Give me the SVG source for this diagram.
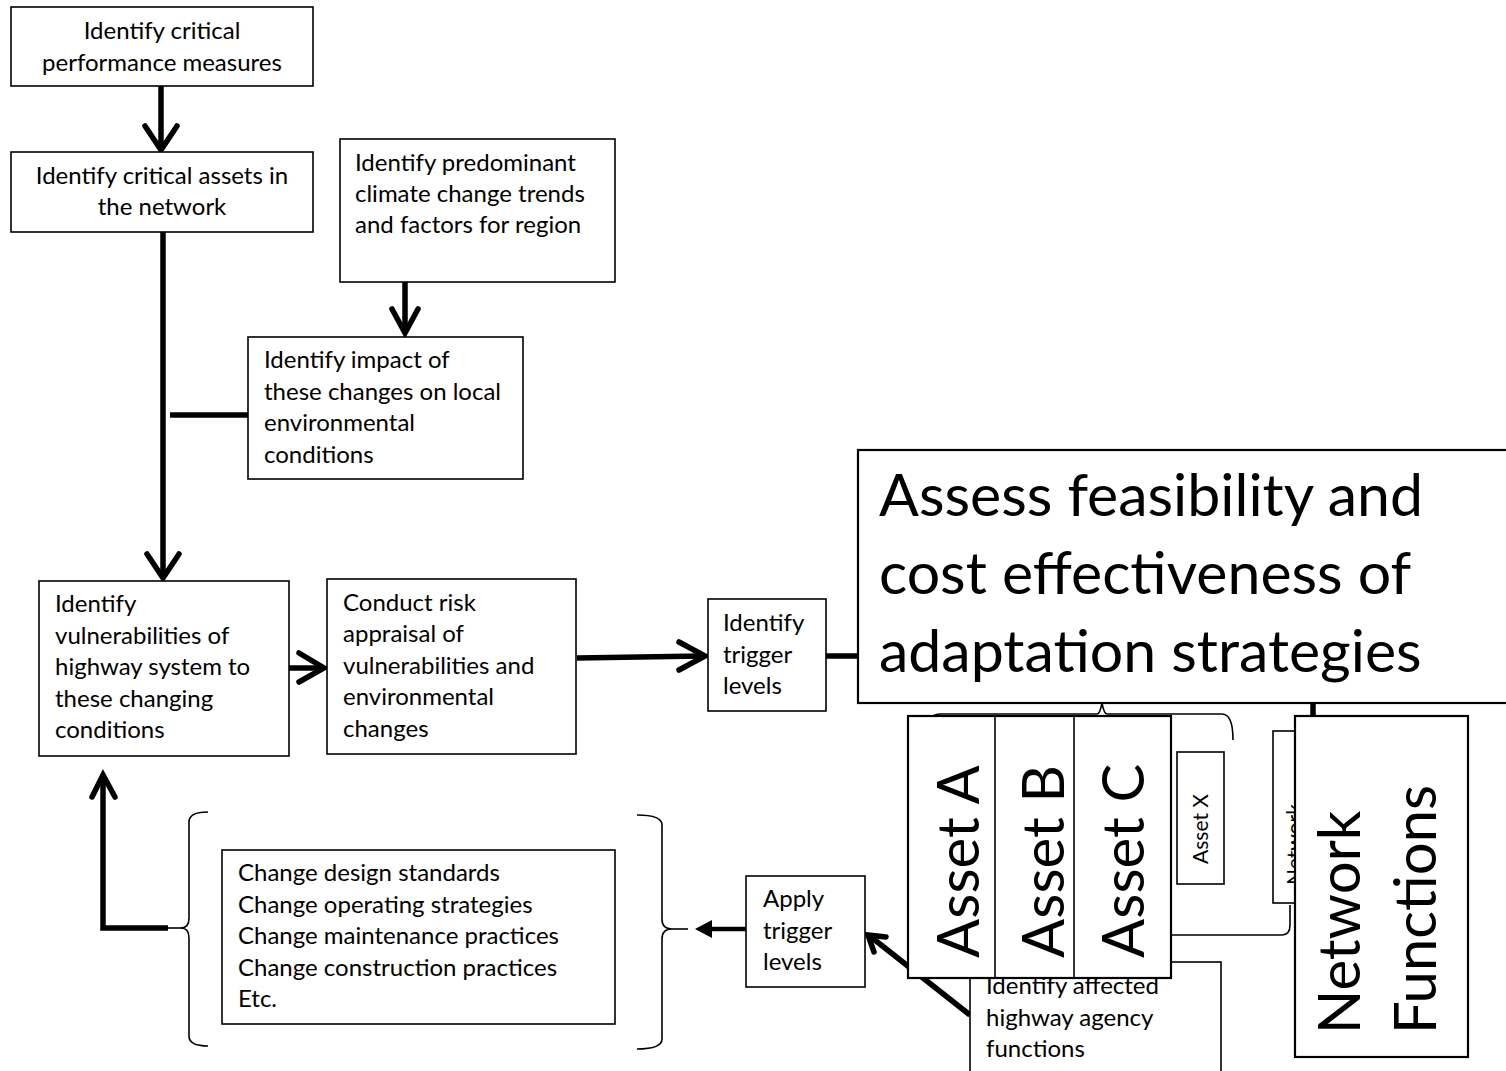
<svg xmlns="http://www.w3.org/2000/svg" width="1506" height="1071" viewBox="0 0 1506 1071">
  <style>
    .box { fill: #ffffff; stroke: #000000; stroke-width: 1.6; }
    .big { fill: #ffffff; stroke: #000000; stroke-width: 2.2; }
    .t { font-family: Lato, "Open Sans", "Liberation Sans", sans-serif; font-size: 24px; fill: #000000; }
    .c { text-anchor: middle; }
    .huge { font-family: Lato, "Open Sans", "Liberation Sans", sans-serif; font-size: 59px; fill: #000000; }
    .rot { font-family: Lato, "Open Sans", "Liberation Sans", sans-serif; font-size: 58px; fill: #000000; }
    .small { font-family: Lato, "Open Sans", "Liberation Sans", sans-serif; font-size: 21px; fill: #000000; }
    .thick { fill: none; stroke: #000000; stroke-width: 5.5; stroke-linejoin: miter; }
    .head { fill: none; stroke: #000000; stroke-width: 5.5; stroke-linecap: round; stroke-linejoin: miter; }
    .thin { fill: none; stroke: #000000; stroke-width: 1.6; }
  </style>

  <rect width="1506" height="1071" fill="#ffffff"/>

  <!-- connectors, braces and arrows -->
  <g id="connectors">
    <!-- performance measures -> critical assets -->
    <line class="thick" x1="161" y1="86" x2="161" y2="147"/>
    <polyline class="head" points="145,126 161,150 177,126"/>
    <!-- climate trends -> impact -->
    <line class="thick" x1="405" y1="282" x2="405" y2="330"/>
    <polyline class="head" points="392,309 405,333 418,309"/>
    <!-- critical assets -> vulnerabilities -->
    <line class="thick" x1="163" y1="232" x2="163" y2="575"/>
    <polyline class="head" points="147,554 163,578 179,554"/>
    <!-- impact feeds the trunk -->
    <line class="thick" x1="170" y1="415" x2="248" y2="415"/>
    <!-- vulnerabilities -> risk appraisal -->
    <line class="thick" x1="289" y1="668" x2="322" y2="668"/>
    <polyline class="head" points="299,653 324,668 299,682"/>
    <!-- risk appraisal -> trigger levels -->
    <line class="thick" x1="577" y1="658" x2="702" y2="656"/>
    <polyline class="head" points="679,642 705,656 679,670"/>
    <!-- trigger levels -> feasibility -->
    <line class="thick" x1="826" y1="656" x2="858" y2="656"/>
    <!-- feasibility to functions stub -->
    <line class="thick" x1="1313" y1="703" x2="1313" y2="716"/>
    <!-- affected functions -> apply trigger levels -->
    <line class="thick" x1="970" y1="1015" x2="871" y2="937"/>
    <polyline class="head" points="874,952 868,935 886,937"/>
    <!-- apply trigger levels -> strategies -->
    <line x1="746" y1="929" x2="706" y2="929" stroke="#000000" stroke-width="4.5"/>
    <polygon points="695,929 712,920 712,938" fill="#000000"/>
    <line class="thin" x1="672" y1="929" x2="688" y2="929"/>
    <!-- strategies loop back to vulnerabilities -->
    <polyline class="thick" points="168,928 103,928 103,780"/>
    <polyline class="head" points="92,797 103,775 115,797"/>
    <line class="thin" x1="168" y1="928" x2="182" y2="928"/>
    <!-- braces around the strategy list -->
    <path class="thin" d="M208,812 Q189,812 189,822 L189,918 Q189,928 181,928 Q189,928 189,938 L189,1036 Q189,1046 208,1046"/>
    <path class="thin" d="M637,815 Q662,815 662,825 L662,919 Q662,929 672,929 Q662,929 662,939 L662,1039 Q662,1049 637,1049"/>
    <!-- brace under the feasibility box -->
    <path class="thin" d="M925,740 Q925,714 940,714 L1097,714 Q1100,714 1102,703 Q1104,714 1107,714 L1222,714 Q1233,714 1233,740"/>
    <!-- brace from the assets to the network -->
    <path class="thin" d="M1171,935 L1282,935 Q1290,935 1290,925 L1290,905"/>
  </g>

  <g id="performance-measures">
    <rect class="box" x="11" y="7" width="302" height="79"/>
    <text class="t c" x="162" y="39">Identify critical</text>
    <text class="t c" x="162" y="71">performance measures</text>
  </g>

  <g id="critical-assets">
    <rect class="box" x="11" y="152" width="302" height="80"/>
    <text class="t c" x="162" y="184">Identify critical assets in</text>
    <text class="t c" x="162" y="215">the network</text>
  </g>

  <g id="climate-trends">
    <rect class="box" x="340" y="139" width="275" height="143"/>
    <text class="t" x="355" y="171">Identify predominant</text>
    <text class="t" x="355" y="202">climate change trends</text>
    <text class="t" x="355" y="233">and factors for region</text>
  </g>

  <g id="local-impact">
    <rect class="box" x="248" y="337" width="275" height="142"/>
    <text class="t" x="264" y="368">Identify impact of</text>
    <text class="t" x="264" y="400">these changes on local</text>
    <text class="t" x="264" y="431">environmental</text>
    <text class="t" x="264" y="463">conditions</text>
  </g>

  <g id="vulnerabilities">
    <rect class="box" x="39" y="581" width="250" height="175"/>
    <text class="t" x="55" y="612">Identify</text>
    <text class="t" x="55" y="644">vulnerabilities of</text>
    <text class="t" x="55" y="675">highway system to</text>
    <text class="t" x="55" y="707">these changing</text>
    <text class="t" x="55" y="738">conditions</text>
  </g>

  <g id="risk-appraisal">
    <rect class="box" x="327" y="579" width="249" height="175"/>
    <text class="t" x="343" y="611">Conduct risk</text>
    <text class="t" x="343" y="642">appraisal of</text>
    <text class="t" x="343" y="674">vulnerabilities and</text>
    <text class="t" x="343" y="705">environmental</text>
    <text class="t" x="343" y="737">changes</text>
  </g>

  <g id="trigger-levels">
    <rect class="box" x="708" y="599" width="118" height="112"/>
    <text class="t" x="723" y="631">Identify</text>
    <text class="t" x="723" y="663">trigger</text>
    <text class="t" x="723" y="694">levels</text>
  </g>

  <g id="feasibility">
    <rect class="big" x="858" y="450" width="660" height="253"/>
    <text class="huge" x="879" y="516">Assess feasibility and</text>
    <text class="huge" x="879" y="594">cost effectiveness of</text>
    <text class="huge" x="879" y="672">adaptation strategies</text>
  </g>

  <g id="asset-x">
    <rect class="box" x="1177" y="752" width="47" height="132"/>
    <text class="small c" transform="translate(1208,829) rotate(-90)">Asset X</text>
  </g>

  <g id="affected-functions">
    <rect class="box" x="970" y="962" width="251" height="115"/>
    <text class="t" x="986" y="994">Identify affected</text>
    <text class="t" x="986" y="1026">highway agency</text>
    <text class="t" x="986" y="1057">functions</text>
  </g>

  <g id="assets">
    <rect class="big" x="908" y="716" width="263" height="262"/>
    <line class="thin" x1="995" y1="716" x2="995" y2="978"/>
    <line class="thin" x1="1074" y1="716" x2="1074" y2="978"/>
    <text class="rot" transform="translate(979,958) rotate(-90)">Asset A</text>
    <text class="rot" transform="translate(1064,958) rotate(-90)">Asset B</text>
    <text class="rot" transform="translate(1144,958) rotate(-90)">Asset C</text>
  </g>

  <g id="network">
    <rect class="box" x="1273" y="731" width="40" height="172"/>
    <text class="small" transform="translate(1302,885) rotate(-90)">Network</text>
  </g>

  <g id="network-functions">
    <rect class="big" x="1295" y="716" width="173" height="341"/>
    <text class="rot" transform="translate(1360,1034) rotate(-90)">Network</text>
    <text class="rot" transform="translate(1436,1034) rotate(-90)">Functions</text>
  </g>

  <g id="strategies">
    <rect class="box" x="222" y="850" width="393" height="174"/>
    <text class="t" x="238" y="881">Change design standards</text>
    <text class="t" x="238" y="913">Change operating strategies</text>
    <text class="t" x="238" y="944">Change maintenance practices</text>
    <text class="t" x="238" y="976">Change construction practices</text>
    <text class="t" x="238" y="1007">Etc.</text>
  </g>

  <g id="apply-trigger-levels">
    <rect class="box" x="746" y="876" width="119" height="111"/>
    <text class="t" x="763" y="907">Apply</text>
    <text class="t" x="763" y="939">trigger</text>
    <text class="t" x="763" y="970">levels</text>
  </g>
</svg>
